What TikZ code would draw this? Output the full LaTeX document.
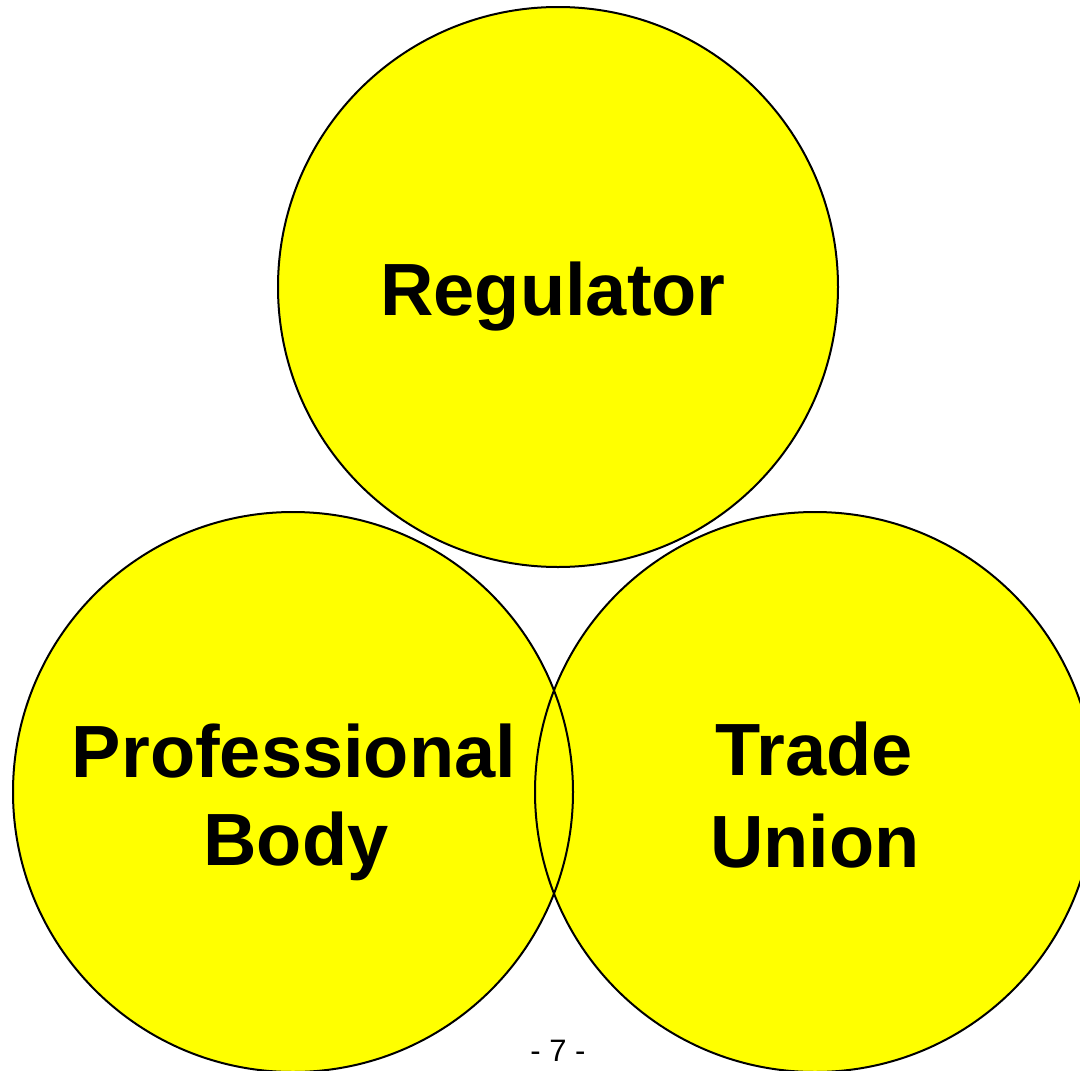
\documentclass[tikz,border=0pt]{standalone}
\usepackage{fontspec}
\setmainfont{Liberation Sans}
\usetikzlibrary{backgrounds}
\definecolor{vennyellow}{RGB}{255,255,0}
\begin{document}
\begin{tikzpicture}[x=1pt,y=-1pt,
  ring/.style={circle, draw=black, line width=2pt, minimum size=560pt, inner sep=0pt, outer sep=0pt},
  ringfill/.style={fill=vennyellow},
  bigtxt/.style={font=\fontsize{74}{88}\selectfont\bfseries, anchor=base, inner sep=0pt},
  pagetxt/.style={font=\fontsize{31}{36}\selectfont, anchor=base, inner sep=0pt}
]
\useasboundingbox (0,0) rectangle (1080,1071);
\clip (0,0) rectangle (1080,1071);
\node[ring] (reg) at (558,287) {};
\node[ring] (prof) at (293,792) {};
\node[ring] (union) at (815,792) {};
\begin{scope}[on background layer]
  \fill[ringfill] (reg.center) circle[radius=280];
  \fill[ringfill] (prof.center) circle[radius=280];
  \fill[ringfill] (union.center) circle[radius=280];
\end{scope}
\node[bigtxt] (tReg) at (553,315) {Regulator};
\node[bigtxt] (tProf) at (294,777) {Professional};
\node[bigtxt] (tBody) at (296,865) {Body};
\node[bigtxt] (tTrade) at (814,775) {Trade};
\node[bigtxt] (tUnion) at (815,867) {Union};
\node[pagetxt] (page) at (558,1061) {- 7 -};
\end{tikzpicture}
\end{document}
